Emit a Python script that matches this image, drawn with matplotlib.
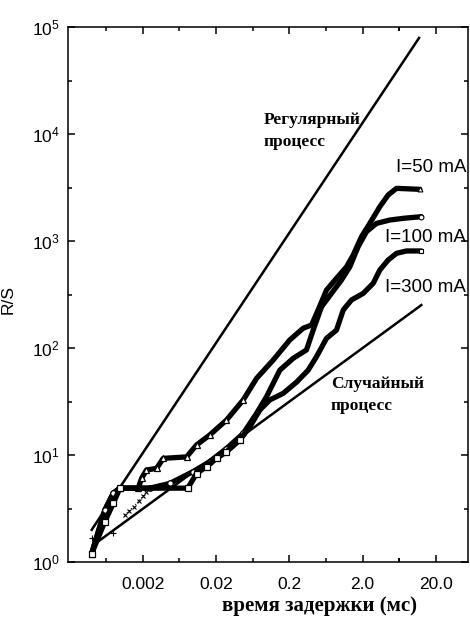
import numpy as np
from matplotlib import pyplot as plt
from matplotlib import ticker

# (log-log, R/S vs delay)
x_50 = [4.0e-4, 6.05e-4, 7.9e-4, 9.7e-4, 1.73e-3, 1.92e-3, 2.24e-3, 3.08e-3, 3.79e-3, 7.9e-3,
        0.0108, 0.0164, 0.0277, 0.0469, 0.0713, 0.120, 0.203, 0.309, 0.402, 0.495,
        0.643, 0.88, 1.21, 1.49, 1.93, 2.51, 3.44, 4.47, 5.81, 12.1]
y_50 = [1.2, 3.06, 4.4, 4.9, 4.9, 6.05, 7.24, 7.5, 9.3, 9.6,
        12.4, 15.4, 21.2, 32.7, 52, 77, 119, 153, 164, 227,
        348, 448, 575, 740, 1096, 1462, 2094, 2692, 3105, 3040]

x_100 = [4.0e-4, 6.05e-4, 7.9e-4, 9.7e-4, 2.49e-3, 4.68e-3, 9.7e-3, 0.0164, 0.0277, 0.0469,
         0.0713, 0.0975, 0.148, 0.225, 0.343, 0.423, 0.55, 0.753, 1.03, 1.34,
         1.74, 2.26, 3.10, 4.71, 7.17, 12.7]
y_100 = [1.2, 3.06, 4.4, 4.9, 4.9, 5.43, 7.0, 8.67, 11.5, 15.9,
         24.5, 35, 62, 80, 96, 147, 243, 324, 432, 575,
         885, 1222, 1462, 1570, 1629, 1688]

x_300 = [4.0e-4, 6.05e-4, 7.9e-4, 9.7e-4, 8.2e-3, 0.0108, 0.0148, 0.0203, 0.0277, 0.0422,
         0.0578, 0.079, 0.108, 0.165, 0.251, 0.361, 0.47, 0.643, 0.88, 1.09,
         1.41, 2.04, 2.79, 3.44, 4.47, 5.81, 7.94, 12.7]
y_300 = [1.2, 2.38, 3.54, 4.9, 4.9, 6.7, 7.8, 9.3, 10.7, 13.8,
         18.4, 26.3, 32.7, 37.7, 48, 62, 83, 123, 147, 227,
         281, 324, 402, 536, 664, 767, 807, 807]

x_cross = [1.13e-3, 1.3e-3, 1.5e-3, 1.75e-3, 2.0e-3, 2.24e-3]
y_cross = [2.75, 3.0, 3.3, 3.7, 4.1, 4.5]
x_plus = [4.0e-4, 7.9e-4]
y_plus = [1.66, 1.85]

# reference lines: regular (H~1) and random (H=0.5)
x_reg = [4.0e-4, 11.8]
y_reg = [2.0, 7.9e4]
x_rand = [4.2e-4, 12.7]
y_rand = [1.44, 252]

xticks = [0.002, 0.02, 0.2, 2.0, 20.0]
xticklabels = ['0.002', '0.02', '0.2', '2.0', '20.0']

plt.rcParams['font.family'] = ['Liberation Sans', 'DejaVu Sans']

fig = plt.figure(figsize=(4.70, 6.19), dpi=100)
ax = fig.add_axes([68 / 470, 1 - 562 / 619, 400 / 470, 535 / 619])

ax.plot(x_reg, y_reg, color='black', lw=1.8)
ax.plot(x_rand, y_rand, color='black', lw=1.8)

for xs, ys, m in [(x_50, y_50, '^'), (x_100, y_100, 'o'), (x_300, y_300, 's')]:
    xs = np.array(xs)
    ys = np.array(ys)
    ax.plot(xs, ys, color='black', lw=3.8, solid_capstyle='round', solid_joinstyle='round')
    low = xs < 0.05
    ax.plot(xs[low], ys[low], ls='none', marker=m, ms=4, mfc='white', mec='black', mew=0.9)
    ax.plot(xs[-1], ys[-1], ls='none', marker=m, ms=3.5, mfc='white', mec='black', mew=0.8)

ax.plot(x_cross, y_cross, color='black', ls=':', lw=0.8, marker='x', ms=3, mew=0.8)
ax.plot(x_plus, y_plus, ls='none', color='black', marker='+', ms=4, mew=0.8)

ax.set_xscale('log')
ax.set_yscale('log')
ax.set_xlim(1.9e-4, 55)
ax.set_ylim(1, 1e5)

ax.xaxis.set_major_locator(ticker.FixedLocator(xticks))
ax.xaxis.set_major_formatter(ticker.FixedFormatter(xticklabels))
ax.xaxis.set_minor_locator(ticker.FixedLocator([t * 10 ** 0.5 / 10 for t in xticks] + [6.32]))
ax.xaxis.set_minor_formatter(ticker.NullFormatter())
ax.yaxis.set_major_locator(ticker.LogLocator(base=10, numticks=10))
ax.yaxis.set_minor_locator(ticker.FixedLocator([10 ** (k + 0.5) for k in range(5)]))
ax.yaxis.set_minor_formatter(ticker.NullFormatter())

ax.tick_params(which='both', direction='in', top=True, right=True, width=1.1)
ax.tick_params(which='major', length=5, labelsize=12.5)
ax.tick_params(which='minor', length=3)
ax.tick_params(axis='x', which='major', pad=11)
ax.tick_params(axis='y', which='major', pad=6)
for s in ax.spines.values():
    s.set_linewidth(1.1)

ax.set_ylabel('R/S', fontsize=12.5)
ax.yaxis.set_label_coords(-0.13, 0.49)
fig.text(320 / 470, 1 - 606 / 619, 'время задержки (мс)', family='Liberation Serif',
         fontweight='bold', fontsize=15, ha='center', va='center')

H = 619  # figure height in px, text positions below are measured from the top
ax.text(264, H - 131, 'Регулярный\nпроцесс', transform=None, fontsize=12.5,
        family='Liberation Serif', fontweight='bold', va='center', linespacing=1.45)
ax.text(331, H - 395, 'Случайный\nпроцесс', transform=None, fontsize=12.5,
        family='Liberation Serif', fontweight='bold', va='center', linespacing=1.45)
for lbl, ypix in [('I=50 mA', 167), ('I=100 mA', 237), ('I=300 mA', 287)]:
    ax.text(466, H - ypix, lbl, transform=None, fontsize=13.5, ha='right', va='center')

plt.savefig('out.png', dpi=100)
